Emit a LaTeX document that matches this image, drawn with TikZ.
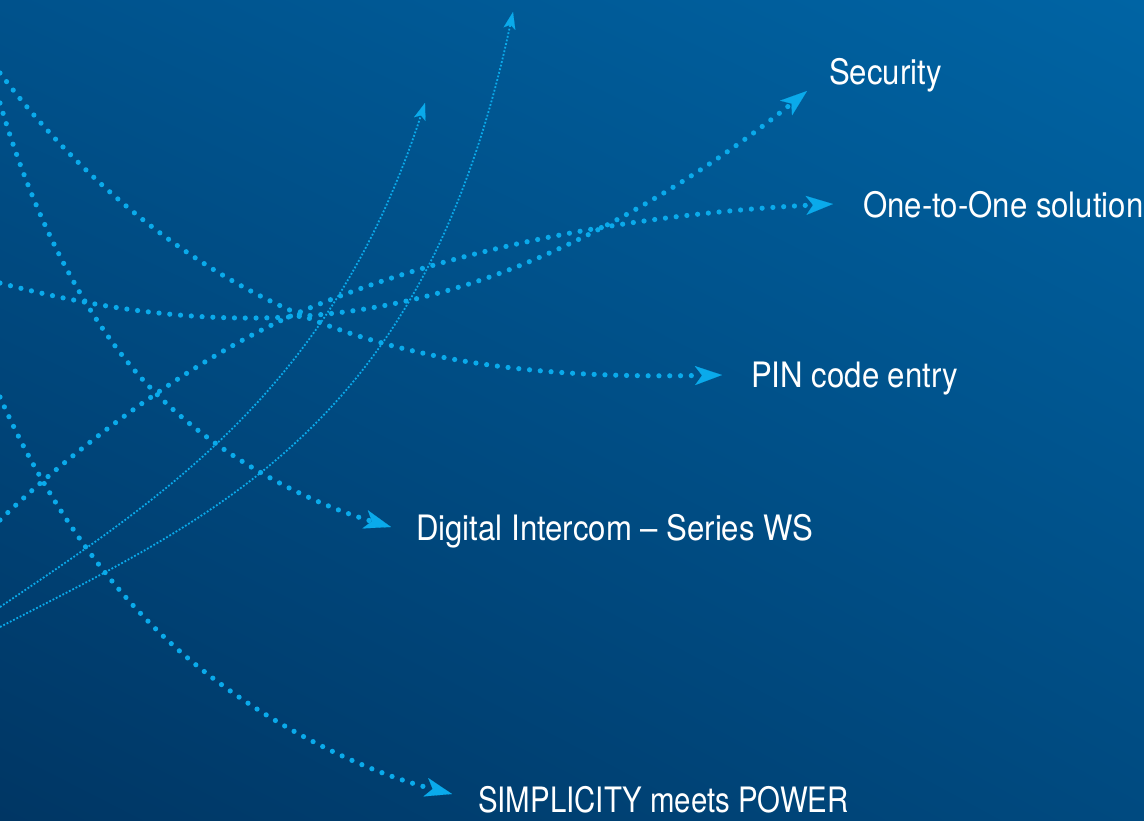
\documentclass[tikz,border=0pt]{standalone}
\usepackage{fontspec}
\setmainfont{TeX Gyre Heros}[FakeStretch=0.89]
\newfontfamily\narrowfont{TeX Gyre Heros}[FakeStretch=0.84]
\usetikzlibrary{arrows.meta,shadings}

\definecolor{bgtl}{RGB}{0,82,140}
\definecolor{bgtr}{RGB}{0,100,164}
\definecolor{bgbl}{RGB}{0,54,100}
\definecolor{bgbr}{RGB}{0,74,128}
\definecolor{dotcyan}{RGB}{10,170,235}

\begin{document}
\begin{tikzpicture}[x=1pt,y=-1pt,
		dot line/.style={draw=dotcyan,line width=5.2pt,line cap=round,dash pattern=on 0pt off 10.8pt,
			-{Stealth[length=27pt,width=19pt,inset=7pt,line width=0.1pt]}},
		fine line/.style={draw=dotcyan,line width=1.8pt,dash pattern=on 1.8pt off 1.9pt,
			-{Stealth[length=17pt,width=12pt,inset=4pt,line width=0.1pt]}},
		tag node/.style={anchor=base west,inner sep=0pt,text=white,font=\fontsize{35}{40}\selectfont}]
		
		% background drawn small, then blown up
		\begin{scope}[transform canvas={scale=20}]
		\shade[upper left=bgtl,upper right=bgtr,lower left=bgbl,lower right=bgbr] (0,0) rectangle (57.2,41);
		\end{scope}
		\useasboundingbox (0,0) rectangle (1144,820);
		
		\node[tag node] (sec) at (829,84) {Security};
		\node[tag node] (one) at (863,217) {One-to-One solution};
		\node[tag node] (pin) at (751,387) {PIN code entry};
		\node[tag node] (dig) at (416,540) {Digital Intercom – Series WS};
		\node[tag node] (sim) at (478,812) {\narrowfont SIMPLICITY meets POWER};
		
		\coordinate (sec0) at (0,283);   \coordinate (sec1) at (456,288);  \coordinate (secTip) at (807,91);
		\coordinate (one0) at (0,520);   \coordinate (one1) at (300,312);  \coordinate (oneTip) at (833,204);
		\coordinate (pin0) at (0,73);    \coordinate (pin1) at (283,307);  \coordinate (pinTip) at (722,375);
		\coordinate (dig0) at (0,103);   \coordinate (dig1) at (144,381);  \coordinate (digTip) at (391,527);
		\coordinate (sim0) at (0,397);   \coordinate (sim1) at (144,617);  \coordinate (simTip) at (452,794);
		\coordinate (up0) at (0,607);    \coordinate (upTip) at (425,103);
		\coordinate (top0) at (0,627);   \coordinate (topTip) at (513,12);
		
		\draw[fine line] (up0) .. controls (166,495) and (332,388) .. (upTip);
		\draw[fine line] (top0) .. controls (222,512) and (425,424) .. (topTip);
		
		\draw[dot line] (sec0) .. controls (152,323) and (304,334) .. (sec1) .. controls (580,251) and (706,173) .. (secTip);
		\draw[dot line] (one0) .. controls (79,444) and (199,355) .. (one1) .. controls (466,242) and (653,213) .. (oneTip);
		\draw[dot line] (pin0) .. controls (72,169) and (174,257) .. (pin1) .. controls (420,370) and (572,378) .. (pinTip);
		\draw[dot line] (dig0) .. controls (28,199) and (76,307) .. (dig1) .. controls (209,451) and (300,500) .. (digTip);
		\draw[dot line] (sim0) .. controls (34,475) and (85,556) .. (sim1) .. controls (223,700) and (340,765) .. (simTip);
		\end{tikzpicture}
\end{document}
